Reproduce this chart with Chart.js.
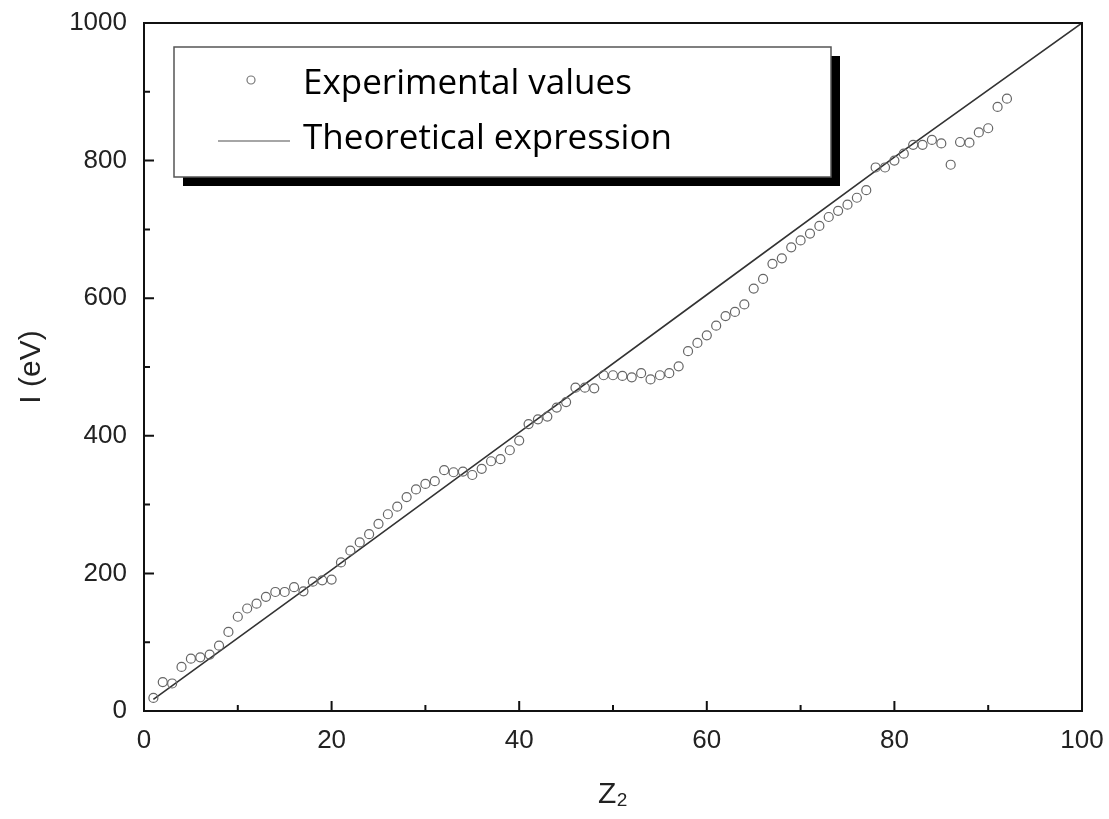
<!DOCTYPE html>
<html>
<head>
<meta charset="utf-8">
<title>I vs Z2</title>
<script src="https://cdn.jsdelivr.net/npm/chart.js@4.4.1/dist/chart.umd.min.js"></script>
<style>
  html, body { margin: 0; padding: 0; background: #fff; }
  #wrap { width: 1109px; height: 819px; }
</style>
</head>
<body>
<div id="wrap"><canvas id="chart" width="1109" height="819"></canvas></div>
<script>
// atomic number Z2 of the experimental points
const zValues = [
  1, 2, 3, 4, 5, 6, 7, 8, 9, 10,
  11, 12, 13, 14, 15, 16, 17, 18, 19, 20,
  21, 22, 23, 24, 25, 26, 27, 28, 29, 30,
  31, 32, 33, 34, 35, 36, 37, 38, 39, 40,
  41, 42, 43, 44, 45, 46, 47, 48, 49, 50,
  51, 52, 53, 54, 55, 56, 57, 58, 59, 60,
  61, 62, 63, 64, 65, 66, 67, 68, 69, 70,
  71, 72, 73, 74, 75, 76, 77, 78, 79, 80,
  81, 82, 83, 84, 85, 86, 87, 88, 89, 90,
  91, 92
];

// mean excitation energy I (eV)
const expValues = [
  19, 42, 40, 64, 76, 78, 82, 95, 115, 137,
  149, 156, 166, 173, 173, 180, 174, 188, 190, 191,
  216, 233, 245, 257, 272, 286, 297, 311, 322, 330,
  334, 350, 347, 348, 343, 352, 363, 366, 379, 393,
  417, 424, 428, 441, 449, 470, 470, 469, 488, 488,
  487, 485, 491, 482, 488, 491, 501, 523, 535, 546,
  560, 574, 580, 591, 614, 628, 650, 658, 674, 684,
  694, 705, 718, 727, 736, 746, 757, 790, 790, 800,
  810, 823, 823, 830, 825, 794, 827, 826, 841, 847,
  878, 890
];

// theoretical line
const theoryZ = [1, 20, 40, 60, 80, 100];
const theoryI = [17, 205, 405, 605, 805, 1000];

const xTicksMajor = [0, 20, 40, 60, 80, 100];
const xTicksMinor = [10, 30, 50, 70, 90];
const yTicksMajor = [0, 200, 400, 600, 800, 1000];
const yTicksMinor = [100, 300, 500, 700, 900];

const expPoints = zValues.map((z, i) => ({ x: z, y: expValues[i] }));
const theoryPoints = theoryZ.map((z, i) => ({ x: z, y: theoryI[i] }));

// frame + inward ticks, like the original plotting software
const framePlugin = {
  id: 'frame',
  afterDraw(chart) {
    const { ctx, chartArea: a, scales } = chart;
    const xs = scales.x, ys = scales.y;
    ctx.save();
    ctx.strokeStyle = '#111';
    ctx.lineWidth = 2;
    ctx.strokeRect(a.left, a.top, a.right - a.left, a.bottom - a.top);

    ctx.beginPath();
    xTicksMajor.forEach(v => {
      const px = xs.getPixelForValue(v);
      ctx.moveTo(px, a.bottom);
      ctx.lineTo(px, a.bottom - 10);
    });
    xTicksMinor.forEach(v => {
      const px = xs.getPixelForValue(v);
      ctx.moveTo(px, a.bottom);
      ctx.lineTo(px, a.bottom - 6);
    });
    yTicksMajor.forEach(v => {
      const py = ys.getPixelForValue(v);
      ctx.moveTo(a.left, py);
      ctx.lineTo(a.left + 10, py);
    });
    yTicksMinor.forEach(v => {
      const py = ys.getPixelForValue(v);
      ctx.moveTo(a.left, py);
      ctx.lineTo(a.left + 6, py);
    });
    ctx.stroke();
    ctx.restore();
  }
};

// boxed legend with a heavy drop shadow
const legendBoxPlugin = {
  id: 'legendBox',
  afterDraw(chart) {
    const ctx = chart.ctx;
    const ds = chart.data.datasets;
    const bx = 174, by = 47, bw = 657, bh = 130;
    ctx.save();
    ctx.fillStyle = '#000';
    ctx.fillRect(bx + 9, by + 9, bw, bh);
    ctx.fillStyle = '#fff';
    ctx.fillRect(bx, by, bw, bh);
    ctx.strokeStyle = '#555';
    ctx.lineWidth = 1.5;
    ctx.strokeRect(bx, by, bw, bh);

    // marker for experimental values
    ctx.strokeStyle = '#777';
    ctx.lineWidth = 1.2;
    ctx.beginPath();
    ctx.arc(251, 80, 4, 0, Math.PI * 2);
    ctx.stroke();

    // line sample for theory
    ctx.strokeStyle = '#888';
    ctx.lineWidth = 1.5;
    ctx.beginPath();
    ctx.moveTo(218, 141);
    ctx.lineTo(290, 141);
    ctx.stroke();

    ctx.fillStyle = '#000';
    ctx.font = '35px "Open Sans", sans-serif';
    ctx.textBaseline = 'middle';
    ctx.textAlign = 'left';
    ctx.fillText(ds[0].label, 303, 84);
    ctx.fillText(ds[1].label, 303, 139);
    ctx.restore();
  }
};

const tickFont = { family: '"Liberation Sans", Arial, sans-serif', size: 26 };

new Chart(document.getElementById('chart').getContext('2d'), {
  type: 'scatter',
  data: {
    datasets: [
      {
        label: 'Experimental values',
        data: expPoints,
        pointStyle: 'circle',
        pointRadius: 4.5,
        pointBorderWidth: 1.2,
        pointBorderColor: '#666',
        pointBackgroundColor: 'rgba(0,0,0,0)',
        showLine: false
      },
      {
        label: 'Theoretical expression',
        data: theoryPoints,
        showLine: true,
        borderColor: '#333',
        borderWidth: 1.6,
        pointRadius: 0,
        tension: 0
      }
    ]
  },
  options: {
    responsive: false,
    animation: false,
    devicePixelRatio: 1,
    layout: { padding: { top: 23, right: 27, bottom: 0, left: 0 } },
    plugins: {
      legend: { display: false },
      tooltip: { enabled: false }
    },
    scales: {
      x: {
        type: 'linear',
        min: 0,
        max: 100,
        grid: { display: false, drawTicks: false },
        border: { display: false },
        ticks: {
          stepSize: 20,
          padding: 14,
          color: '#222',
          font: tickFont,
          callback: v => String(v)
        },
        title: {
          display: true,
          text: 'Z₂',
          color: '#222',
          font: { family: '"Liberation Sans", "DejaVu Sans", sans-serif', size: 30 },
          padding: { top: 0, bottom: 6 }
        },
        afterFit(scale) {
          scale.height = 819 - 711;
          scale.paddingLeft = 0;
          scale.paddingRight = 0;
        }
      },
      y: {
        type: 'linear',
        min: 0,
        max: 1000,
        grid: { display: false, drawTicks: false },
        border: { display: false },
        ticks: {
          stepSize: 200,
          padding: 17,
          color: '#222',
          font: tickFont,
          callback: v => String(v)
        },
        title: {
          display: true,
          text: 'I (eV)',
          color: '#222',
          font: { family: '"Liberation Sans", Arial, sans-serif', size: 30 },
          padding: { top: 14, bottom: 0 }
        },
        afterFit(scale) {
          scale.width = 144;
          scale.paddingTop = 0;
          scale.paddingBottom = 0;
        }
      }
    }
  },
  plugins: [framePlugin, legendBoxPlugin]
});
</script>
</body>
</html>
